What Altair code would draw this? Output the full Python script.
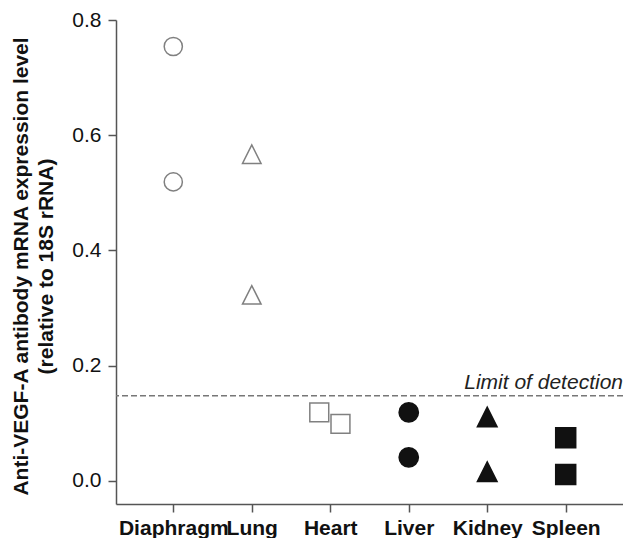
import altair as alt
import pandas as pd

# ---- data ----
organs = ["Diaphragm", "Lung", "Heart", "Liver", "Kidney", "Spleen"]
diaphragm = [0.754, 0.519]
lung = [0.567, 0.323]
heart = [0.119, 0.099]
liver = [0.119, 0.041]
kidney = [0.111, 0.016]
spleen = [0.075, 0.011]
heart_dodge = [-0.14, 0.13]
limit_of_detection = 0.148
y_ticks = [0.0, 0.2, 0.4, 0.6, 0.8]

series = [diaphragm, lung, heart, liver, kidney, spleen]
rows = []
for i, (org, vals) in enumerate(zip(organs, series)):
    for j, v in enumerate(vals):
        off = heart_dodge[j] if org == "Heart" else 0.0
        rows.append({"organ": org, "xpos": i + off, "value": v})
df = pd.DataFrame(rows)

FONT = "Liberation Sans"
x_dom = [-0.73, 5.73]
y_dom = [-0.04, 0.8]
tri = "M-1,1L1,1L0,-1Z"

xscale = alt.Scale(domain=x_dom, nice=False, zero=False)
yscale = alt.Scale(domain=y_dom, nice=False, zero=False)

label_expr = "[" + ",".join("'%s'" % o for o in organs) + "][datum.value]"

points = alt.Chart(df).mark_point(filled=True, strokeWidth=1.5, opacity=1).encode(
    x=alt.X("xpos:Q", scale=xscale,
            axis=alt.Axis(values=list(range(len(organs))), labelExpr=label_expr,
                          title=None, labelFont=FONT, labelFontSize=21,
                          labelFontWeight="bold", labelColor="#111",
                          labelOverlap=False, labelBound=False, labelFlush=False,
                          labelPadding=5, tickSize=8, tickWidth=1.5, tickColor="#555",
                          domainColor="#555", domainWidth=1.5, grid=False)),
    y=alt.Y("value:Q", scale=yscale,
            axis=alt.Axis(values=y_ticks, format=".1f",
                          title=["Anti-VEGF-A antibody mRNA expression level",
                                 "(relative to 18S rRNA)"],
                          titleFont=FONT, titleFontSize=21, titleFontWeight="bold",
                          titleColor="#111", titleLineHeight=25,
                          titleX=-85, titleY=246,
                          labelFont=FONT, labelFontSize=21, labelColor="#111",
                          labelPadding=7, tickSize=8, tickWidth=1.5, tickColor="#555",
                          domainColor="#555", domainWidth=1.5, grid=False)),
    shape=alt.Shape("organ:N", scale=alt.Scale(domain=organs,
                    range=["circle", tri, "square", "circle", tri, "square"]), legend=None),
    fill=alt.Fill("organ:N", scale=alt.Scale(domain=organs,
                  range=["white", "white", "white", "#111", "#111", "#111"]), legend=None),
    stroke=alt.Stroke("organ:N", scale=alt.Scale(domain=organs,
                      range=["#808080", "#808080", "#808080", "#111", "#111", "#111"]), legend=None),
    size=alt.Size("organ:N", scale=alt.Scale(domain=organs,
                  range=[330, 400, 330, 310, 360, 340]), legend=None),
)

lod_df = pd.DataFrame({"y": [limit_of_detection]})
rule = alt.Chart(lod_df).mark_rule(color="#777", strokeDash=[6, 3], strokeWidth=1.5).encode(
    y=alt.Y("y:Q", scale=yscale)
)
lod_text = alt.Chart(lod_df).mark_text(
    text="Limit of detection", font=FONT, fontSize=21, fontStyle="italic",
    align="right", baseline="alphabetic", dy=-7, color="#222"
).encode(
    x=alt.datum(x_dom[1], scale=xscale),
    y=alt.Y("y:Q", scale=yscale),
)

chart = alt.layer(rule, lod_text, points).properties(
    width=507, height=484,
    autosize=alt.AutoSizeParams(type="none"),
    padding={"left": 108, "top": 12, "right": 0, "bottom": 34},
    background="white",
).configure_view(stroke=None)

chart.save("out.html", embed_options={"renderer": "svg", "actions": False})
